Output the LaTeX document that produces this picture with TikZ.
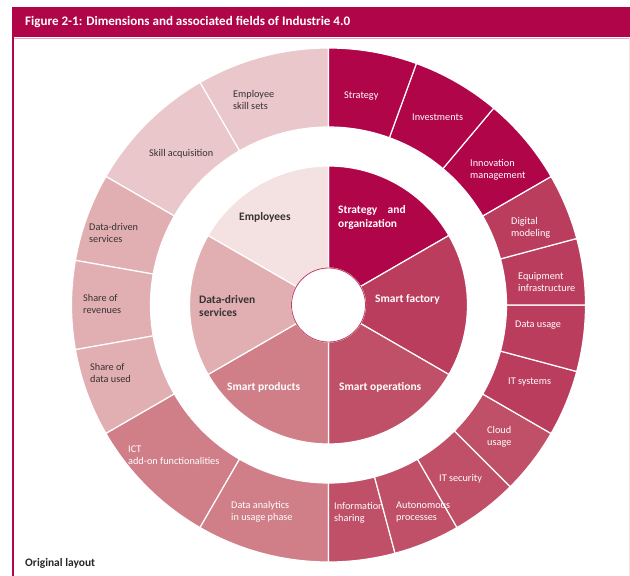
\documentclass[tikz,border=0pt]{standalone}
\usepackage{fontspec}
\setmainfont{Carlito}
\usepackage{tikz}
\definecolor{strategie}{RGB}{176,5,72}
\definecolor{usine}{RGB}{187,61,94}
\definecolor{operations}{RGB}{192,80,103}
\definecolor{produits}{RGB}{208,126,136}
\definecolor{services}{RGB}{225,175,178}
\definecolor{employes}{RGB}{244,225,226}
\definecolor{employesext}{RGB}{233,199,202}
\definecolor{texte}{RGB}{55,50,52}

% secteur d'anneau : couleur, angle debut, angle fin, rayon int, rayon ext
\newcommand{\secteur}[5]{%
  \filldraw[fill=#1, draw=white, line width=1.2] (#2:#4) -- (#2:#5)
    arc[start angle=#2, end angle=#3, radius=#5] -- (#3:#4)
    arc[start angle=#3, end angle=#2, radius=#4] -- cycle;}

\begin{document}
\begin{tikzpicture}[x=1bp, y=1bp,
    champ/.style={anchor=west, align=left, inner sep=0pt, text=texte, font=\fontsize{10.3}{12}\selectfont},
    dimension/.style={anchor=west, align=left, inner sep=0pt, text=texte, font=\fontsize{11.5}{13.5}\selectfont\bfseries}]
            \useasboundingbox (-328.5,-271) rectangle (301.5,305);

            % Cadre et titre
            \fill[strategie] (-316.5,267.5) rectangle (301.5,297.5);
            \draw[strategie!35, line width=0.8] (-316.5,267) -- (301.5,267);
            \draw[strategie, line width=2] (-315.5,267.5) -- (-315.5,-271);
            \draw[strategie!12, line width=1] (300.5,267) -- (300.5,-271);
            \node[dimension, text=white, font=\fontsize{13.1}{15}\selectfont\bfseries] (titre) at (-303.5,282.5) {Figure 2-1: Dimensions and associated fields of Industrie 4.0};

            % Anneau exterieur
            \secteur{employesext}{90}{120}{178}{257}
            \secteur{employesext}{120}{150}{178}{257}
            \secteur{services}{150}{170}{178}{257}
            \secteur{services}{170}{190}{178}{257}
            \secteur{services}{190}{210}{178}{257}
            \secteur{produits}{210}{240}{178}{257}
            \secteur{produits}{240}{270}{178}{257}
            \secteur{operations}{270}{285}{178}{257}
            \secteur{operations}{285}{300}{178}{257}
            \secteur{operations}{300}{315}{178}{257}
            \secteur{operations}{315}{330}{178}{257}
            \secteur{usine}{330}{345}{178}{257}
            \secteur{usine}{345}{360}{178}{257}
            \secteur{usine}{0}{15}{178}{257}
            \secteur{usine}{15}{30}{178}{257}
            \secteur{strategie}{30}{50}{178}{257}
            \secteur{strategie}{50}{70}{178}{257}
            \secteur{strategie}{70}{90}{178}{257}

            % Disque interieur
            \secteur{strategie}{30}{90}{37}{139}
            \secteur{usine}{-30}{30}{37}{139}
            \secteur{operations}{-90}{-30}{37}{139}
            \secteur{produits}{210}{270}{37}{139}
            \secteur{services}{150}{210}{37}{139}
            \secteur{employes}{90}{150}{37}{139}
            \filldraw[fill=white, draw=usine, line width=0.8] (0,0) circle (37);

            % Champs
            \node[champ] (skills) at (-95.5,205) {Employee\\skill sets};
            \node[champ, text=white] (strat) at (15.5,209) {Strategy};
            \node[champ, text=white] (invest) at (83.5,188) {Investments};
            \node[champ, text=white] (innov) at (141.5,135) {Innovation\\management};
            \node[champ, text=white] (digital) at (182.5,77) {Digital\\modeling};
            \node[champ, text=white] (equip) at (189.5,23) {Equipment\\infrastructure};
            \node[champ, text=white] (usage) at (186.5,-20) {Data usage};
            \node[champ, text=white] (itsys) at (179.5,-77) {IT systems};
            \node[champ, text=white] (cloud) at (158.5,-132) {Cloud\\usage};
            \node[champ, text=white] (itsec) at (110.5,-174) {IT security};
            \node[champ, text=white] (auto) at (67.5,-207) {Autonomous\\processes};
            \node[champ, text=white] (info) at (5.5,-208) {Information\\sharing};
            \node[champ, text=white] (analytics) at (-97.5,-207) {Data analytics\\in usage phase};
            \node[champ, text=white] (ict) at (-200.5,-150) {ICT\\add-on functionalities};
            \node[champ] (shdata) at (-238.5,-68) {Share of\\data used};
            \node[champ] (shrev) at (-245.5,1) {Share of\\revenues};
            \node[champ] (ddext) at (-239.5,72) {Data-driven\\services};
            \node[champ] (acq) at (-179.5,151) {Skill acquisition};

            % Dimensions
            \node[dimension] (employees) at (-89.5,88) {Employees};
            \node[dimension, text=white] (strategy) at (9.5,87.5) {Strategy\hspace{0.9em}and\\organization};
            \node[dimension, text=white] (factory) at (46.5,6) {Smart factory};
            \node[dimension] (ddint) at (-129.5,-1) {Data-driven\\services};
            \node[dimension, text=white] (products) at (-101.5,-82) {Smart products};
            \node[dimension, text=white] (operations) at (10.5,-82) {Smart operations};

            % Legende
            \node[dimension, text=black!85] (layout) at (-303.5,-258) {Original layout};
        \end{tikzpicture}
\end{document}
